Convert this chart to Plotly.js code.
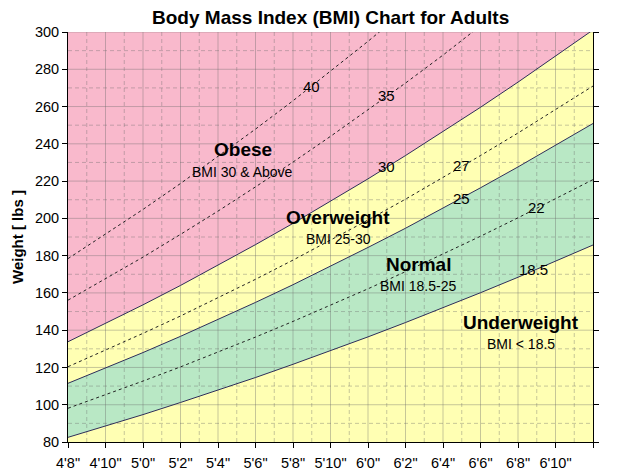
<!DOCTYPE html>
<html>
<head>
<meta charset="utf-8">
<script src="https://cdn.plot.ly/plotly-3.0.1.min.js"></script>
<style>html,body{margin:0;padding:0;background:#fff;}#chart{width:618px;height:474px;}</style>
</head>
<body>
<div id="chart"></div>
<script>
// Heights in inches (4'8" .. 7'0")
var HEIGHTS_IN = [56, 58, 60, 62, 64, 66, 68, 70, 72, 74, 76, 78, 80, 82, 84];
// Weight (lbs) along each BMI curve
var BMI_18_5 = [82.5, 88.5, 94.7, 101.2, 107.8, 114.6, 121.7, 128.9, 136.4, 144.1, 152.0, 160.1, 168.4, 176.9, 185.7];
var BMI_22   = [98.1, 105.3, 112.7, 120.3, 128.2, 136.3, 144.7, 153.3, 162.2, 171.4, 180.8, 190.4, 200.3, 210.4, 220.8];
var BMI_25   = [111.5, 119.6, 128.0, 136.7, 145.7, 154.9, 164.4, 174.3, 184.4, 194.7, 205.4, 216.4, 227.6, 239.1, 250.9];
var BMI_27   = [120.4, 129.2, 138.3, 147.6, 157.3, 167.3, 177.6, 188.2, 199.1, 210.3, 221.8, 233.7, 245.8, 258.3, 271.0];
var BMI_30   = [133.8, 143.6, 153.6, 164.0, 174.8, 185.9, 197.3, 209.1, 221.2, 233.7, 246.5, 259.6, 273.1, 286.9, 301.1];
var BMI_35   = [156.1, 167.5, 179.2, 191.4, 203.9, 216.9, 230.2, 244.0, 258.1, 272.6, 287.6, 302.9, 318.6, 334.8, 351.3];
var BMI_40   = [178.4, 191.4, 204.8, 218.7, 233.1, 247.9, 263.1, 278.8, 295.0, 311.6, 328.6, 346.2, 364.2, 382.6, 401.5];

var X_TICK_VALS = [56, 58, 60, 62, 64, 66, 68, 70, 72, 74, 76, 78, 80, 82, 84];
var X_TICK_TEXT = ["4'8\"", "4'10\"", "5'0\"", "5'2\"", "5'4\"", "5'6\"", "5'8\"", "5'10\"", "6'0\"", "6'2\"", "6'4\"", "6'6\"", "6'8\"", "6'10\"", ""];
var Y_TICK_VALS = [80, 100, 120, 140, 160, 180, 200, 220, 240, 260, 280, 300];

var ZONE_NAMES  = ["Obese", "Overweight", "Normal", "Underweight"];
var ZONE_RANGES = ["BMI 30 & Above", "BMI 25-30", "BMI 18.5-25", "BMI < 18.5"];
var LINE_LABELS = ["40", "35", "30", "27", "25", "22", "18.5"];

var FONT = "Liberation Sans, Arial, sans-serif";
var PINK = "#F9B9CC", YELLOW = "#FFFFB3", GREEN = "#B9E8C5";
var GRID = "rgba(105,105,105,0.38)";

var X0 = X_TICK_VALS[0], X1 = X_TICK_VALS[X_TICK_VALS.length - 1];
var Y0 = Y_TICK_VALS[0], Y1 = Y_TICK_VALS[Y_TICK_VALS.length - 1];

// gridlines (drawn as traces so they sit above the coloured bands)
function gridTrace(xs, ys, dash) {
  var gx = [], gy = [];
  xs.forEach(function (v) { gx.push(v, v, null); gy.push(Y0, Y1, null); });
  ys.forEach(function (v) { gx.push(X0, X1, null); gy.push(v, v, null); });
  return {x: gx, y: gy, mode: "lines", line: {color: GRID, width: 1, dash: dash},
          hoverinfo: "skip", showlegend: false, connectgaps: false};
}
var majX = X_TICK_VALS.slice(1, -1), majY = Y_TICK_VALS.slice(1);
var minX = X_TICK_VALS.slice(0, -1).map(function (v) { return v + 1; });
var minY = Y_TICK_VALS.slice(0, -1).map(function (v) { return v + 10; });

function band(y, color) {
  return {x: HEIGHTS_IN, y: y, mode: "lines", fill: "tozeroy", fillcolor: color,
          line: {width: 0}, hoverinfo: "skip", showlegend: false};
}
function curve(y, solid) {
  return {x: HEIGHTS_IN, y: y, mode: "lines",
          line: solid ? {color: "#2E2E5A", width: 1} : {color: "#222", width: 1, dash: "3px,3px"},
          hoverinfo: "skip", showlegend: false};
}

var traces = [
  band(BMI_30, YELLOW), band(BMI_25, GREEN), band(BMI_18_5, YELLOW),
  gridTrace(majX, majY, "solid"), gridTrace(minX, minY, "4px,3px"),
  curve(BMI_40, false), curve(BMI_35, false), curve(BMI_27, false), curve(BMI_22, false),
  curve(BMI_30, true), curve(BMI_25, true), curve(BMI_18_5, true)
];

var annotations = [];
var zonePos = [[65.33, 236.7, 224.9], [70.4, 200.7, 188.9], [74.67, 175.0, 163.7], [80.16, 143.9, 132.6]];
ZONE_NAMES.forEach(function (n, i) {
  annotations.push({x: zonePos[i][0], y: zonePos[i][1], text: "<b>" + n + "</b>", showarrow: false,
                    font: {family: FONT, size: 19, color: "#000"}});
  annotations.push({x: zonePos[i][0], y: zonePos[i][2], text: ZONE_RANGES[i], showarrow: false,
                    font: {family: FONT, size: 14, color: "#000"}});
});
var linePos = [[69.0, 271.0], [73.0, 265.7], [73.0, 227.6], [76.96, 228.6], [76.96, 210.9], [80.96, 205.6], [80.85, 172.8]];
LINE_LABELS.forEach(function (t, i) {
  annotations.push({x: linePos[i][0], y: linePos[i][1], text: t, showarrow: false,
                    font: {family: FONT, size: 15, color: "#000"}});
});

var layout = {
  width: 618, height: 474,
  margin: {l: 68, r: 25, t: 32, b: 32},
  paper_bgcolor: "#fff", plot_bgcolor: PINK,
  font: {family: FONT, size: 14, color: "#000"},
  title: {text: "<b>Body Mass Index (BMI) Chart for Adults</b>", font: {family: FONT, size: 19, color: "#000"},
          x: 0.535, xanchor: "center", y: 0.963, yanchor: "middle", yref: "container"},
  xaxis: {range: [X0, X1], tickvals: X_TICK_VALS, ticktext: X_TICK_TEXT, showgrid: false, zeroline: false,
          showline: true, linecolor: "#000", linewidth: 1, ticks: "outside", ticklen: 5, tickcolor: "#000",
          ticklabelstandoff: 3,
          tickfont: {family: FONT, size: 14.5, color: "#000"}, fixedrange: true},
  yaxis: {range: [Y0, Y1], tickvals: Y_TICK_VALS, showgrid: false, zeroline: false,
          showline: true, mirror: "ticks", linecolor: "#000", linewidth: 1, ticks: "outside", ticklen: 5, tickcolor: "#000",
          tickfont: {family: FONT, size: 14.5, color: "#000"}, fixedrange: true,
          title: {text: "<b>Weight [ lbs ]</b>", font: {family: FONT, size: 15, color: "#000"}, standoff: 7}},
  annotations: annotations,
  showlegend: false
};

Plotly.newPlot("chart", traces, layout, {displayModeBar: false, staticPlot: true});
</script>
</body>
</html>
